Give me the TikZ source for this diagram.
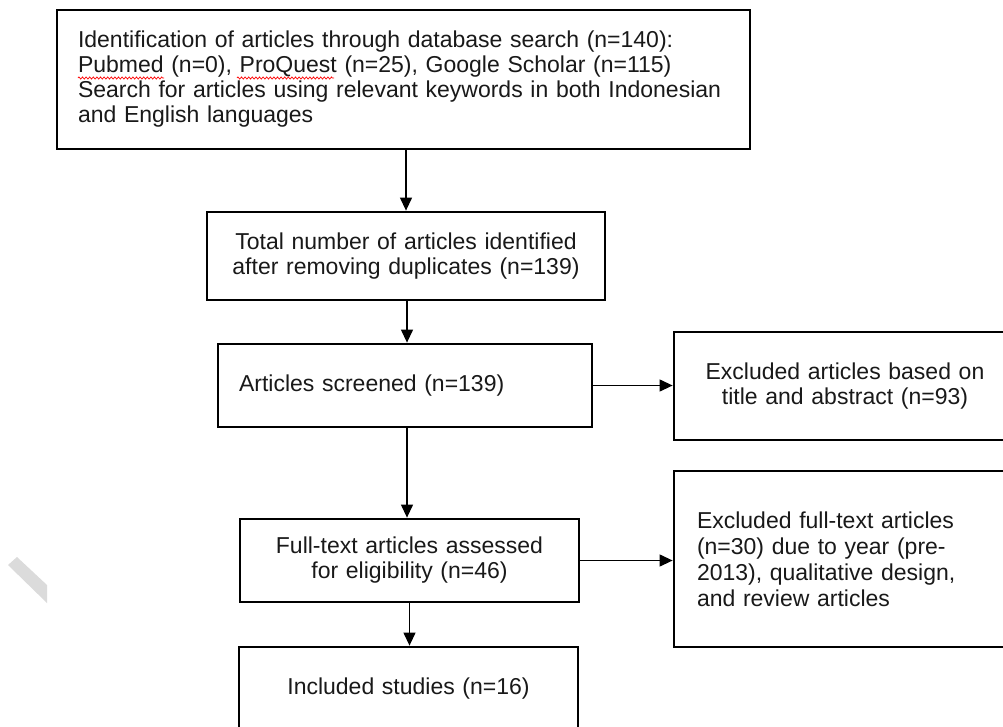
\documentclass[tikz,border=0pt]{standalone}
\usepackage{fontspec}
\setmainfont{Liberation Sans}
\usetikzlibrary{arrows.meta,decorations.pathmorphing}
\begin{document}
\begin{tikzpicture}[x=1pt,y=-1pt,
  box/.style={draw=black, line width=2.8pt, fill=white, inner sep=0pt,
    font=\fontsize{23}{25}\selectfont, text=black!90},
  arr/.style={-{Triangle[length=13pt,width=12pt]}, line width=1.2pt, draw=black},
  spellwave/.style={draw=red, line width=0.7pt, decorate,
    decoration={zigzag, amplitude=1.1pt, segment length=3.6pt}}]
\useasboundingbox (0,0) rectangle (1003,726);
\clip (0,0) rectangle (1003,726);
\fill[black!14] (17,557) -- (47,585) -- (47,603) -- (8,565) -- cycle;

\node[box, minimum width=693pt, minimum height=139pt, text width=651pt, align=left] (box1) at (403.5,79.5)
 {Identification of articles through database search (n=140):\\
  Pubmed (n=0), ProQuest (n=25), Google Scholar (n=115)\\
  Search for articles using relevant keywords in both Indonesian\\
  and English languages};

\node[box, minimum width=398pt, minimum height=88pt, text width=398pt, align=center] (box2) at (406,256)
 {Total number of articles identified\\ after removing duplicates (n=139)};

\node[box, minimum width=374pt, minimum height=83pt, text width=332pt, align=left] (box3) at (405,385.5)
 {Articles screened (n=139)};

\node[box, minimum width=342pt, minimum height=108pt, text width=342pt, align=center] (box4) at (845,386)
 {Excluded articles based on\\ title and abstract (n=93)};

\node[box, minimum width=339pt, minimum height=83pt, text width=339pt, align=center] (box5) at (409.5,560.5)
 {Full-text articles assessed\\ for eligibility (n=46)};

\node[box, minimum width=339pt, minimum height=84pt, text width=339pt, align=center] (box6) at (408.5,689)
 {\raisebox{2pt}{Included studies (n=16)}};

\node[box, minimum width=342pt, minimum height=176pt, text width=296pt, align=left,
  font=\fontsize{23}{26}\selectfont] (box7) at (845,559)
 {Excluded full-text articles\\ (n=30) due to year (pre-\\ 2013), qualitative design,\\ and review articles};

\coordinate (w1a) at (78,78);   \coordinate (w1b) at (164,78);
\coordinate (w2a) at (237,78);  \coordinate (w2b) at (334,78);
\draw[spellwave] (w1a) -- (w1b);
\draw[spellwave] (w2a) -- (w2b);

\draw[arr] (box1.south -| box2.north) -- (box2.north);
\draw[arr] ([xshift=1pt]box2.south) -- ([xshift=1pt]box2.south |- box3.north);
\draw[arr] (box3.east) -- (box3.east -| box4.west);
\draw[arr] ([xshift=2pt]box3.south) -- ([xshift=2pt]box3.south |- box5.north);
\draw[arr] (box5.east) -- (box5.east -| box7.west);
\draw[arr] (box5.south) -- (box5.south |- box6.north);
\end{tikzpicture}
\end{document}
